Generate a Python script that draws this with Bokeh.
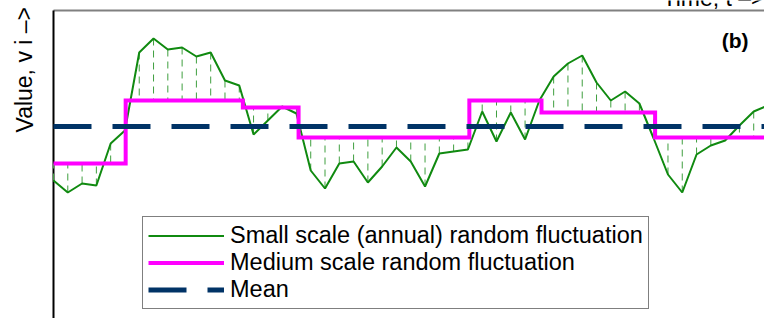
from bokeh.plotting import figure
from bokeh.models import Range1d, Legend, LegendItem, Label
from bokeh.embed import file_html
from bokeh.resources import INLINE

# ---- data ----
years = list(range(51))
small_scale = [-5.4, -6.6, -5.7, -5.9, -1.7, -0.4, 7.4, 8.8, 7.7, 7.9,
               7.0, 7.4, 4.6, 4.1, -0.8, 0.6, 2.0, 1.3, -4.4, -6.2,
               -3.7, -3.5, -5.6, -4.0, -2.1, -3.5, -6.0, -2.7, -2.5, -2.3,
               1.5, -1.5, 1.4, -1.3, 2.6, 5.0, 6.3, 7.1, 4.4, 2.6,
               3.5, 2.3, -1.2, -4.8, -6.6, -2.8, -1.9, -1.4, 0.1, 1.5, 2.1]
medium_edges = [0, 5.05, 13.25, 17.15, 29.1, 34.15, 42.1, 50]
medium_levels = [-3.7, 2.6, 1.9, -1.1, 2.6, 1.4, -1.1]
mean_value = 0.0
axis_top = 11.6
axis_bottom = -19.2

legend_labels = ["Small scale (annual) random fluctuation",
                 "Medium scale random fluctuation",
                 "Mean"]
y_label = "Value, v i \u2013>"
x_label = "Time, t \u2013>"
panel_tag = "(b)"

# ---- derived series ----
step_x, step_y = [], []
for k, lvl in enumerate(medium_levels):
    step_x += [medium_edges[k], medium_edges[k + 1]]
    step_y += [lvl, lvl]


def medium_at(x):
    for k in range(len(medium_levels)):
        if medium_edges[k] <= x < medium_edges[k + 1]:
            return medium_levels[k]
    return medium_levels[-1]


res_y1 = [medium_at(x) for x in years]

FONT = "Liberation Sans"

p = figure(width=764, height=318,
           x_range=Range1d(-3.709, 49.755), y_range=Range1d(-19.2, 12.6),
           output_backend="svg", toolbar_location=None,
           x_axis_location=None, y_axis_location=None,
           min_border_left=0, min_border_right=0,
           min_border_top=0, min_border_bottom=0)
p.grid.visible = False
p.outline_line_color = None
p.background_fill_color = "white"
p.border_fill_color = "white"

# plot-area borders: grey top edge, black left axis line
p.line([0, medium_edges[-1]], [axis_top, axis_top], line_color="#808080",
       line_width=2)
p.line([0, 0], [axis_bottom, axis_top], line_color="black", line_width=2)

# residual dashed verticals
p.segment(x0=years, y0=small_scale, x1=years, y1=res_y1,
          line_color="#3f9f3f", line_width=1, line_dash="7 5")
r_small = p.line(years, small_scale, line_color="#108a10", line_width=2)
r_med = p.line(step_x, step_y, line_color="#ff00ff", line_width=4,
               line_join="miter")
r_mean = p.line([medium_edges[0], medium_edges[-1]], [mean_value, mean_value],
                line_color="#003366", line_width=5, line_dash="38 21")

legend = Legend(items=[LegendItem(label=legend_labels[0], renderers=[r_small]),
                       LegendItem(label=legend_labels[1], renderers=[r_med]),
                       LegendItem(label=legend_labels[2], renderers=[r_mean])],
                location=(142, 9), orientation="vertical",
                padding=5, spacing=0, margin=0,
                glyph_width=76, glyph_height=27, label_height=27,
                label_standoff=6,
                label_text_font=FONT, label_text_font_size="23.5px",
                label_text_color="black",
                border_line_color="black", border_line_width=1.2,
                background_fill_color="white", background_fill_alpha=1)
p.add_layout(legend, "center")

p.add_layout(Label(x=24, y=186, x_units="screen", y_units="screen",
                   text=y_label, angle=1.5708, text_align="left",
                   text_baseline="alphabetic", text_font=FONT,
                   text_font_size="23px", text_color="black"))
p.add_layout(Label(x=662, y=321, x_units="screen", y_units="screen",
                   text=x_label, text_align="left", text_baseline="alphabetic",
                   text_font=FONT, text_font_size="23px", text_color="black"))
p.add_layout(Label(x=748, y=278, x_units="screen", y_units="screen",
                   text=panel_tag, text_align="right", text_baseline="middle",
                   text_font=FONT, text_font_size="21px",
                   text_font_style="bold", text_color="black"))

open("out.html", "w").write(file_html(p, INLINE))
